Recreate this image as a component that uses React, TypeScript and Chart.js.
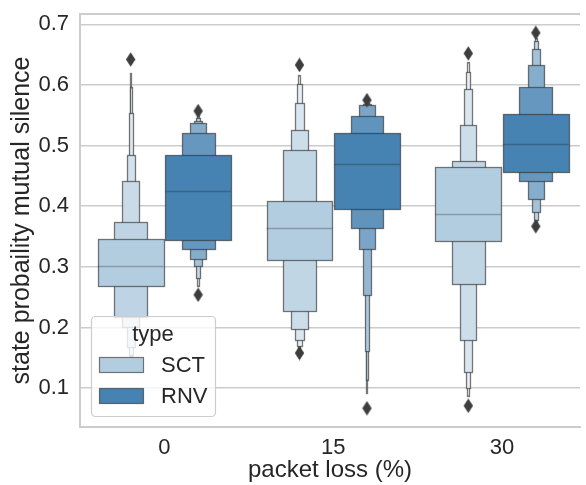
import React, { useEffect, useRef } from 'react';
import { Chart, registerables } from 'chart.js';

Chart.register(...registerables);

// ---------------- data ----------------
const categories = ['0', '15', '30'];
const hues = ['SCT', 'RNV'];
const yTicks = [0.1, 0.2, 0.3, 0.4, 0.5, 0.6, 0.7];

// letter-value levels, innermost (IQR) first
const sct0Low = [0.269, 0.218, 0.201, 0.168, 0.154, 0.151, 0.150];
const sct0High = [0.346, 0.374, 0.441, 0.485, 0.553, 0.597, 0.620];
const sct0Median = 0.301;
const sct0Outliers = [0.642];

const rnv0Low = [0.345, 0.329, 0.313, 0.301, 0.281, 0.268];
const rnv0High = [0.485, 0.521, 0.537, 0.541, 0.546, 0.550];
const rnv0Median = 0.425;
const rnv0Outliers = [0.557, 0.254];

const sct15Low = [0.312, 0.228, 0.198, 0.180, 0.169, 0.165];
const sct15High = [0.409, 0.493, 0.525, 0.571, 0.601, 0.616];
const sct15Median = 0.364;
const sct15Outliers = [0.633, 0.158];

const rnv15Low = [0.396, 0.364, 0.329, 0.254, 0.161, 0.114, 0.092];
const rnv15High = [0.521, 0.548, 0.567, 0.569, 0.570, 0.571, 0.572];
const rnv15Median = 0.470;
const rnv15Outliers = [0.575, 0.067];

const sct30Low = [0.342, 0.271, 0.180, 0.127, 0.101, 0.087];
const sct30High = [0.464, 0.475, 0.534, 0.593, 0.622, 0.638];
const sct30Median = 0.387;
const sct30Outliers = [0.652, 0.071];

const rnv30Low = [0.457, 0.442, 0.412, 0.390, 0.378, 0.372];
const rnv30High = [0.552, 0.597, 0.633, 0.659, 0.672, 0.678];
const rnv30Median = 0.502;
const rnv30Outliers = [0.686, 0.367];

const hueColors = [
  [179, 205, 224],
  [70, 130, 178],
];

const boxes = [
  { cat: 0, hue: 0, low: sct0Low, high: sct0High, median: sct0Median, outliers: sct0Outliers },
  { cat: 0, hue: 1, low: rnv0Low, high: rnv0High, median: rnv0Median, outliers: rnv0Outliers },
  { cat: 1, hue: 0, low: sct15Low, high: sct15High, median: sct15Median, outliers: sct15Outliers },
  { cat: 1, hue: 1, low: rnv15Low, high: rnv15High, median: rnv15Median, outliers: rnv15Outliers },
  { cat: 2, hue: 0, low: sct30Low, high: sct30High, median: sct30Median, outliers: sct30Outliers },
  { cat: 2, hue: 1, low: rnv30Low, high: rnv30High, median: rnv30Median, outliers: rnv30Outliers },
];

const HUE_OFFSET = 0.2;
const BOX_WIDTH = 0.39;
const FONT = '"Liberation Sans", Arial, sans-serif';
const TEXT = '#262626';
const EDGE = 'rgba(50,50,50,0.65)';

function blend(c: number[], t: number) {
  const r = Math.round(c[0] + (255 - c[0]) * t);
  const g = Math.round(c[1] + (255 - c[1]) * t);
  const b = Math.round(c[2] + (255 - c[2]) * t);
  return `rgb(${r},${g},${b})`;
}

function boxCenter(cat: number, hue: number) {
  return cat + (hue === 0 ? -HUE_OFFSET : HUE_OFFSET);
}

function makeDiamond() {
  const c = document.createElement('canvas');
  c.width = 11;
  c.height = 15;
  const g = c.getContext('2d')!;
  g.fillStyle = '#3d3d3d';
  g.beginPath();
  g.moveTo(5.5, 0.3);
  g.lineTo(10.2, 7.5);
  g.lineTo(5.5, 14.7);
  g.lineTo(0.8, 7.5);
  g.closePath();
  g.fill();
  return c;
}

const boxenPlugin = {
  id: 'boxen',
  beforeDatasetsDraw(chart: any) {
    const { ctx, chartArea } = chart;
    const x = chart.scales.x;
    const y = chart.scales.y;
    ctx.save();
    ctx.beginPath();
    ctx.rect(chartArea.left, chartArea.top, chartArea.right - chartArea.left, chartArea.bottom - chartArea.top);
    ctx.clip();
    for (const b of boxes) {
      const cx = boxCenter(b.cat, b.hue);
      const k = b.low.length;
      for (let i = k - 1; i >= 0; i--) {
        const w = BOX_WIDTH * Math.pow(0.5, i);
        const l = Math.round(x.getPixelForValue(cx - w / 2)) + 0.5;
        let r = Math.round(x.getPixelForValue(cx + w / 2)) + 0.5;
        if (r - l < 1) r = l + 1;
        const t = Math.round(y.getPixelForValue(b.high[i])) + 0.5;
        const bt = Math.round(y.getPixelForValue(b.low[i])) + 0.5;
        ctx.fillStyle = blend(hueColors[b.hue], (0.85 * i) / (k - 1));
        ctx.fillRect(l, t, r - l, bt - t);
        ctx.strokeStyle = EDGE;
        ctx.lineWidth = 1.3;
        ctx.strokeRect(l, t, r - l, bt - t);
      }
      const ml = x.getPixelForValue(cx - BOX_WIDTH / 2);
      const mr = x.getPixelForValue(cx + BOX_WIDTH / 2);
      const my = Math.round(y.getPixelForValue(b.median)) + 0.5;
      ctx.strokeStyle = 'rgba(38,38,38,0.3)';
      ctx.lineWidth = 1.5;
      ctx.beginPath();
      ctx.moveTo(ml, my);
      ctx.lineTo(mr, my);
      ctx.stroke();
    }
    ctx.restore();
    // top spine
    ctx.save();
    ctx.strokeStyle = '#cccccc';
    ctx.lineWidth = 2;
    ctx.beginPath();
    ctx.moveTo(chartArea.left, chartArea.top);
    ctx.lineTo(chartArea.right, chartArea.top);
    ctx.stroke();
    ctx.restore();
  },
  afterDatasetsDraw(chart: any) {
    const { ctx, chartArea } = chart;
    const lx = chartArea.left + 11;
    const ly = chartArea.bottom - 111;
    const w = 124;
    const h = 100;
    ctx.save();
    ctx.fillStyle = 'rgba(255,255,255,0.8)';
    ctx.strokeStyle = '#cccccc';
    ctx.lineWidth = 1.2;
    ctx.beginPath();
    ctx.roundRect(lx + 0.5, ly + 0.5, w, h, 4);
    ctx.fill();
    ctx.stroke();
    ctx.fillStyle = TEXT;
    ctx.font = `22px ${FONT}`;
    ctx.textBaseline = 'middle';
    ctx.textAlign = 'center';
    ctx.fillText('type', lx + w / 2, ly + 19);
    ctx.textAlign = 'left';
    hues.forEach((name, i) => {
      const sy = ly + 41 + i * 31;
      ctx.fillStyle = blend(hueColors[i], 0);
      ctx.fillRect(lx + 8.5, sy + 0.5, 44, 15);
      ctx.strokeStyle = EDGE;
      ctx.lineWidth = 1.2;
      ctx.strokeRect(lx + 8.5, sy + 0.5, 44, 15);
      ctx.fillStyle = TEXT;
      ctx.fillText(name, lx + 70, sy + 9);
    });
    ctx.restore();
  },
};

export default function App() {
  const ref = useRef<HTMLCanvasElement | null>(null);
  useEffect(() => {
    if (!ref.current) return;
    const diamond = makeDiamond();
    const outlierData: { x: number; y: number }[] = [];
    boxes.forEach((b) => {
      b.outliers.forEach((v) => outlierData.push({ x: boxCenter(b.cat, b.hue), y: v }));
    });
    const chart = new Chart(ref.current, {
      type: 'scatter',
      data: {
        datasets: [
          {
            label: 'outliers',
            data: outlierData,
            pointStyle: diamond as any,
            pointRadius: 5,
            pointHoverRadius: 5,
          },
        ],
      },
      options: {
        animation: false,
        responsive: false,
        layout: { padding: { top: 14, right: 4, left: 0, bottom: 0 } },
        plugins: { legend: { display: false }, tooltip: { enabled: false } },
        scales: {
          x: {
            type: 'linear',
            min: -0.5,
            max: 2.462,
            afterBuildTicks: (s: any) => {
              s.ticks = categories.map((_, i) => ({ value: i }));
            },
            afterFit: (s: any) => {
              s.height = 58;
              s.paddingLeft = 0;
              s.paddingRight = 0;
            },
            ticks: {
              callback: (v: any) => categories[Math.round(Number(v))],
              font: { family: FONT, size: 22 },
              color: TEXT,
              padding: 8,
              maxRotation: 0,
            },
            grid: { display: false, drawTicks: false },
            border: { color: '#cccccc', width: 2 },
            title: {
              display: true,
              text: 'packet loss (%)',
              font: { family: FONT, size: 24 },
              color: TEXT,
              padding: { top: 0, bottom: 0 },
            },
          },
          y: {
            type: 'linear',
            min: 0.036,
            max: 0.717,
            afterBuildTicks: (s: any) => {
              s.ticks = yTicks.map((v) => ({ value: v }));
            },
            afterFit: (s: any) => {
              s.width = 80;
              s.paddingTop = 0;
              s.paddingBottom = 0;
            },
            ticks: {
              callback: (v: any) => Number(v).toFixed(1),
              font: { family: FONT, size: 22 },
              color: TEXT,
              padding: 11,
            },
            grid: { color: '#cccccc', lineWidth: 1.5, drawTicks: false },
            border: { color: '#cccccc', width: 2 },
            title: {
              display: true,
              text: 'state probaility mutual silence',
              font: { family: FONT, size: 25 },
              color: TEXT,
              padding: { top: 7, bottom: 0 },
            },
          },
        },
      },
      plugins: [boxenPlugin],
    });
    return () => chart.destroy();
  }, []);
  return (
    <div style={{ position: 'absolute', left: 0, top: 0, width: 586, height: 485 }}>
      <canvas ref={ref} width={586} height={485} style={{ display: 'block' }} />
    </div>
  );
}
